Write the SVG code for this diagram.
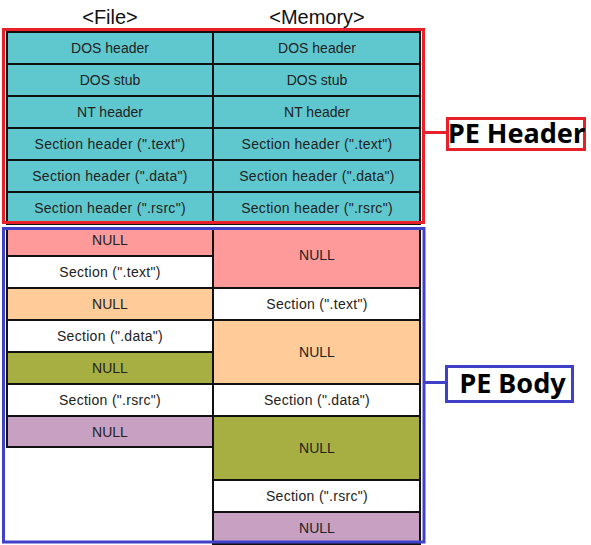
<svg xmlns="http://www.w3.org/2000/svg" width="591" height="545" viewBox="0 0 591 545">
<style>
.c{stroke:#111;stroke-width:2}
.t{font-family:"Liberation Sans",Arial,sans-serif;font-size:14px;fill:#222;text-anchor:middle}
.s{letter-spacing:0.3px}
.h{fill:#5fc8cf}.p{fill:#ff9a9b}.w{fill:#fff}.o{fill:#ffcc99}.g{fill:#a8af42}.v{fill:#c8a0c1}
.lbl{font-family:"Noto Sans","DejaVu Sans",sans-serif;font-weight:bold;font-size:27px;fill:#000;text-anchor:middle}
.top{font-family:"Liberation Sans",Arial,sans-serif;font-size:20px;fill:#111;text-anchor:middle}
</style>
<rect width="591" height="545" fill="#fff"/>
<text class="top" x="110" y="24">&lt;File&gt;</text>
<text class="top" x="317" y="24">&lt;Memory&gt;</text>
<g id="file-column">
<g id="f-dos-header"><rect class="c h" x="7" y="32" width="206" height="32"/><text class="t" x="110" y="53">DOS header</text></g>
<g id="f-dos-stub"><rect class="c h" x="7" y="64" width="206" height="32"/><text class="t" x="110" y="85">DOS stub</text></g>
<g id="f-nt-header"><rect class="c h" x="7" y="96" width="206" height="32"/><text class="t" x="110" y="117">NT header</text></g>
<g id="f-sh-text"><rect class="c h" x="7" y="128" width="206" height="32"/><text class="t s" x="110" y="149">Section header (".text")</text></g>
<g id="f-sh-data"><rect class="c h" x="7" y="160" width="206" height="32"/><text class="t s" x="110" y="181">Section header (".data")</text></g>
<g id="f-sh-rsrc"><rect class="c h" x="7" y="192" width="206" height="32"/><text class="t s" x="110" y="213">Section header (".rsrc")</text></g>
<g id="f-null1"><rect class="c p" x="7" y="228" width="206" height="28"/><text class="t" x="110" y="245">NULL</text></g>
<g id="f-sec-text"><rect class="c w" x="7" y="256" width="206" height="32"/><text class="t s" x="110" y="277">Section (".text")</text></g>
<g id="f-null2"><rect class="c o" x="7" y="288" width="206" height="32"/><text class="t" x="110" y="309">NULL</text></g>
<g id="f-sec-data"><rect class="c w" x="7" y="320" width="206" height="32"/><text class="t s" x="110" y="341">Section (".data")</text></g>
<g id="f-null3"><rect class="c g" x="7" y="352" width="206" height="32"/><text class="t" x="110" y="373">NULL</text></g>
<g id="f-sec-rsrc"><rect class="c w" x="7" y="384" width="206" height="32"/><text class="t s" x="110" y="405">Section (".rsrc")</text></g>
<g id="f-null4"><rect class="c v" x="7" y="416" width="206" height="31"/><text class="t" x="110" y="437">NULL</text></g>
</g>
<g id="memory-column">
<g id="m-dos-header"><rect class="c h" x="213" y="32" width="207" height="32"/><text class="t" x="317" y="53">DOS header</text></g>
<g id="m-dos-stub"><rect class="c h" x="213" y="64" width="207" height="32"/><text class="t" x="317" y="85">DOS stub</text></g>
<g id="m-nt-header"><rect class="c h" x="213" y="96" width="207" height="32"/><text class="t" x="317" y="117">NT header</text></g>
<g id="m-sh-text"><rect class="c h" x="213" y="128" width="207" height="32"/><text class="t s" x="317" y="149">Section header (".text")</text></g>
<g id="m-sh-data"><rect class="c h" x="213" y="160" width="207" height="32"/><text class="t s" x="317" y="181">Section header (".data")</text></g>
<g id="m-sh-rsrc"><rect class="c h" x="213" y="192" width="207" height="32"/><text class="t s" x="317" y="213">Section header (".rsrc")</text></g>
<g id="m-null1"><rect class="c p" x="213" y="228" width="207" height="60"/><text class="t" x="317" y="260">NULL</text></g>
<g id="m-sec-text"><rect class="c w" x="213" y="288" width="207" height="32"/><text class="t s" x="317" y="309">Section (".text")</text></g>
<g id="m-null2"><rect class="c o" x="213" y="320" width="207" height="64"/><text class="t" x="317" y="357">NULL</text></g>
<g id="m-sec-data"><rect class="c w" x="213" y="384" width="207" height="32"/><text class="t s" x="317" y="405">Section (".data")</text></g>
<g id="m-null3"><rect class="c g" x="213" y="416" width="207" height="64"/><text class="t" x="317" y="453">NULL</text></g>
<g id="m-sec-rsrc"><rect class="c w" x="213" y="480" width="207" height="32"/><text class="t s" x="317" y="501">Section (".rsrc")</text></g>
<g id="m-null4"><rect class="c v" x="213" y="512" width="207" height="32"/><text class="t" x="317" y="533">NULL</text></g>
</g>
<g id="connectors" fill="none" stroke-width="3">
<rect x="3.5" y="29.5" width="420" height="193" stroke="#e8202a"/>
<line x1="424" y1="132.5" x2="447" y2="132.5" stroke="#e8202a"/>
<rect x="3.5" y="228.5" width="420.5" height="313.5" stroke="#4040c8"/>
<line x1="424" y1="382.5" x2="446" y2="382.5" stroke="#4040c8"/>
</g>
<g id="pe-header-label">
<rect x="447.5" y="118.5" width="137" height="31" fill="#fff" stroke="#e8202a" stroke-width="3"/>
<text class="lbl" x="516.5" y="142.5">PE Header</text>
</g>
<g id="pe-body-label">
<rect x="446.5" y="366.5" width="126" height="35" fill="#fff" stroke="#4040c8" stroke-width="3"/>
<text class="lbl" x="512.5" y="392.5">PE Body</text>
</g>
</svg>
